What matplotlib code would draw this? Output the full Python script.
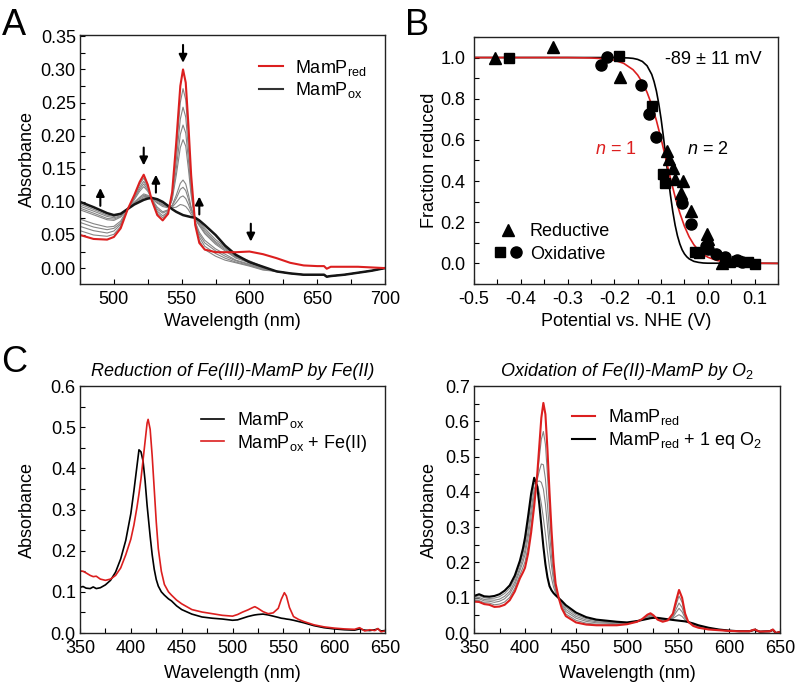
import matplotlib
matplotlib.use('Agg')
from matplotlib import pyplot as plt
from matplotlib.lines import Line2D
from matplotlib.legend_handler import HandlerTuple
from matplotlib.ticker import MultipleLocator, FuncFormatter

plt.rcParams['font.family'] = ['Liberation Sans', 'DejaVu Sans']
plt.rcParams['font.size'] = 13
plt.rcParams['mathtext.fontset'] = 'custom'
plt.rcParams['mathtext.rm'] = 'Liberation Sans'
plt.rcParams['mathtext.it'] = 'Liberation Sans:italic'
plt.rcParams['mathtext.bf'] = 'Liberation Sans:bold'
plt.rcParams['axes.unicode_minus'] = False

RED = '#dc1f1f'
GRAY = '#858585'

# ---- panel A: redox titration spectra, 475-700 nm ----
wl_a = [475, 485, 495, 500, 505, 510, 515, 519, 522, 525, 528, 532, 536, 540, 543, 546, 549, 551, 553, 555,
        557, 560, 563, 567, 575, 582, 590, 600, 610, 620, 630, 640, 650, 655, 657, 660, 670, 680, 690, 700]
red_a = [.050, .044, .043, .047, .060, .088, .110, .130, .141, .126, .102, .080, .072, .082, .115, .190, .275, .300, .280, .215,
         .140, .065, .038, .028, .024, .024, .024, .025, .021, .015, .008, .004, .003, .003, -.001, .002, .002, .002, .001, .000]
ox_a = [.100, .092, .083, .080, .082, .089, .096, .100, .103, .105, .106, .104, .100, .094, .089, .085, .082, .080, .079, .078,
        .077, .076, .072, .065, .050, .034, .020, .009, .002, -.005, -.008, -.010, -.010, -.010, -.013, -.012, -.010, -.007, -.004, .000]
gray_a = [
    [.0565, .050, .048, .051, .063, .088, .108, .126, .136, .123, .103, .083, .076, .084, .112, .176, .250, .271, .254, .197,
     .132, .066, .042, .028, .018, .012, .008, .003, -.003, -.005, -.008, -.010, -.010, -.010, -.013, -.012, -.010, -.007, -.004, .000],
    [.063, .0565, .053, .056, .066, .088, .106, .122, .131, .121, .103, .086, .079, .085, .108, .163, .225, .243, .228, .179,
     .124, .068, .047, .033, .022, .015, .009, .004, -.002, -.005, -.008, -.010, -.010, -.010, -.013, -.012, -.010, -.007, -.004, .000],
    [.069, .062, .058, .060, .068, .088, .105, .119, .127, .118, .104, .089, .083, .087, .105, .150, .202, .216, .204, .163,
     .116, .069, .051, .038, .026, .018, .011, .005, -.001, -.005, -.008, -.010, -.010, -.010, -.013, -.012, -.010, -.007, -.004, .000],
    [.074, .067, .062, .063, .071, .089, .103, .116, .123, .116, .104, .092, .085, .088, .103, .140, .182, .194, .184, .149,
     .110, .070, .054, .042, .029, .021, .012, .006, -.001, -.005, -.008, -.010, -.010, -.010, -.013, -.012, -.010, -.007, -.004, .000],
    [.088, .0805, .073, .072, .077, .089, .099, .107, .112, .110, .105, .098, .093, .091, .095, .110, .128, .133, .127, .111,
     .092, .073, .064, .052, .036, .026, .015, .008, .000, -.005, -.008, -.010, -.010, -.010, -.013, -.012, -.010, -.007, -.004, .000],
    [.0905, .083, .075, .074, .078, .089, .099, .106, .110, .109, .105, .099, .095, .092, .094, .105, .119, .122, .117, .104,
     .089, .074, .066, .054, .038, .028, .016, .009, .001, -.005, -.008, -.010, -.010, -.010, -.013, -.012, -.010, -.007, -.004, .000],
    [.0935, .086, .078, .076, .079, .089, .098, .104, .108, .108, .106, .101, .096, .092, .092, .099, .107, .109, .105, .096,
     .085, .075, .068, .057, .040, .030, .017, .010, .001, -.005, -.008, -.010, -.010, -.010, -.013, -.012, -.010, -.007, -.004, .000],
    [.0965, .0886, .080, .078, .081, .089, .097, .102, .106, .107, .106, .102, .098, .093, .091, .092, .096, .095, .093, .088,
     .081, .075, .070, .060, .043, .032, .018, .011, .002, -.005, -.008, -.010, -.010, -.010, -.013, -.012, -.010, -.007, -.004, .000],
]
# arrows: (wavelength, tail, head)
arrows_a = [(490, .094, .121), (522, .182, .155), (531, .114, .141), (551, .337, .310), (563, .081, .108), (601, .067, .040)]

# ---- panel B: Nernst titration ----
red_tri_x = [-0.455, -0.332, -0.188, -0.088, -0.083, -0.075, -0.071, -0.054, -0.058, -0.035, -0.002, 0.0, 0.031, 0.045]
red_tri_y = [1.0, 1.05, 0.905, 0.545, 0.505, 0.465, 0.41, 0.40, 0.34, 0.255, 0.145, 0.118, 0.0, 0.01]
ox_sq_x = [-0.425, -0.19, -0.12, -0.096, -0.091, -0.028, -0.018, 0.062, 0.085, 0.1]
ox_sq_y = [1.0, 1.008, 0.765, 0.435, 0.39, 0.055, 0.05, 0.012, 0.005, -0.003]
ox_ci_x = [-0.229, -0.215, -0.143, -0.126, -0.110, -0.056, -0.037, -0.005, 0.0, 0.018, 0.036, 0.062, 0.072]
ox_ci_y = [0.962, 1.005, 0.865, 0.727, 0.613, 0.295, 0.19, 0.085, 0.07, 0.045, 0.03, 0.015, 0.008]
fit1_x = [-0.5, -0.3, -0.25, -0.22, -0.2, -0.18, -0.16, -0.15, -0.14, -0.13, -0.12, -0.11, -0.10, -0.09,
          -0.08, -0.07, -0.06, -0.05, -0.04, -0.03, -0.02, -0.01, 0.0, 0.02, 0.04, 0.07, 0.15]
fit1_y = [1.0, 1.0, 0.998, 0.994, 0.987, 0.972, 0.941, 0.915, 0.879, 0.831, 0.770, 0.694, 0.605, 0.510,
          0.413, 0.323, 0.245, 0.180, 0.129, 0.091, 0.064, 0.044, 0.030, 0.014, 0.007, 0.002, 0.0]
fit2_x = [-0.5, -0.2, -0.17, -0.16, -0.15, -0.14, -0.13, -0.12, -0.115, -0.11, -0.105, -0.10, -0.095, -0.09, -0.085,
          -0.08, -0.075, -0.07, -0.065, -0.06, -0.055, -0.05, -0.045, -0.04, -0.03, -0.02, -0.01, 0.0, 0.15]
fit2_y = [1.0, 1.0, 0.998, 0.996, 0.991, 0.981, 0.960, 0.918, 0.883, 0.837, 0.776, 0.702, 0.615, 0.519, 0.423,
          0.332, 0.252, 0.186, 0.134, 0.095, 0.066, 0.046, 0.032, 0.022, 0.010, 0.005, 0.002, 0.001, 0.0]

# ---- panel C left: Fe(III)-MamP + Fe(II) ----
wl_cl = [350, 353, 356, 360, 363, 366, 370, 375, 380, 385, 390, 395, 400, 403, 406, 408, 410, 412, 414, 416, 417, 419,
         421, 423, 425, 427, 430, 433, 437, 440, 445, 450, 460, 470, 480, 490, 500, 505, 510, 515, 520, 522, 525, 530,
         535, 540, 545, 548, 551, 553, 556, 560, 565, 570, 580, 590, 600, 610, 620, 625, 630, 635, 640, 643, 646, 650]
ox_cl = [.111, .113, .109, .108, .112, .108, .110, .117, .128, .148, .180, .225, .290, .345, .405, .445, .440, .418, .370, .310, .285, .235,
         .190, .155, .130, .114, .100, .092, .083, .078, .066, .057, .046, .039, .036, .034, .031, .032, .036, .040, .043, .044, .045, .046,
         .044, .041, .038, .036, .035, .034, .033, .031, .028, .025, .018, .013, .010, .008, .007, .010, .007, .006, .008, .010, .005, .006]
fe_cl = [.151, .150, .146, .140, .137, .138, .131, .128, .131, .140, .158, .190, .228, .262, .305, .338, .375, .420, .465, .510, .519, .495,
         .430, .350, .270, .205, .150, .118, .100, .092, .080, .071, .057, .051, .047, .043, .041, .045, .051, .056, .062, .064, .060, .052,
         .047, .049, .060, .082, .098, .090, .062, .040, .033, .028, .020, .015, .012, .010, .009, .013, .005, .008, .006, .011, .003, .005]

# ---- panel C right: Fe(II)-MamP + O2 ----
wl_cr = [350, 355, 360, 365, 370, 375, 380, 385, 390, 395, 398, 400, 403, 406, 409, 412, 414, 416, 418, 420,
         422, 424, 426, 428, 430, 433, 436, 440, 450, 460, 470, 480, 490, 500, 510, 515, 520, 523, 526, 530,
         535, 540, 545, 548, 551, 554, 557, 560, 565, 570, 580, 590, 600, 610, 620, 625, 630, 640, 643, 646, 650]
red_cr = [.089, .088, .082, .080, .074, .075, .080, .093, .118, .155, .172, .185, .225, .285, .360, .450, .530, .610, .652, .620,
          .520, .400, .290, .200, .140, .100, .070, .048, .030, .024, .022, .022, .022, .025, .032, .040, .052, .056, .050, .038,
          .032, .036, .055, .090, .122, .100, .055, .032, .020, .015, .010, .008, .006, .005, .005, .010, .004, .005, .010, .000, .003]
o2_cr = [.105, .110, .104, .103, .105, .110, .120, .135, .163, .205, .240, .270, .330, .395, .440, .415, .365, .305, .245, .195,
         .158, .133, .121, .113, .107, .099, .091, .079, .058, .045, .038, .035, .032, .030, .034, .037, .040, .042, .043, .043,
         .041, .039, .037, .036, .035, .034, .033, .031, .027, .022, .015, .010, .007, .005, .005, .009, .004, .005, .009, .000, .003]
gray_cr = [
    [.092, .092, .086, .085, .080, .082, .088, .101, .127, .165, .186, .202, .246, .307, .376, .443, .497, .549, .571, .535,
     .448, .347, .256, .183, .133, .100, .074, .054, .036, .028, .025, .025, .024, .026, .032, .039, .050, .053, .049, .039,
     .034, .037, .051, .079, .105, .087, .051, .032, .021, .016, .011, .008, .006, .005, .005, .010, .004, .005, .010, .000, .003],
    [.096, .097, .091, .090, .087, .090, .097, .111, .137, .177, .201, .222, .270, .332, .394, .435, .459, .479, .477, .437,
     .364, .285, .217, .163, .126, .100, .079, .061, .042, .033, .029, .028, .026, .027, .033, .039, .047, .050, .047, .040,
     .036, .037, .047, .067, .085, .072, .046, .032, .023, .018, .012, .009, .006, .005, .005, .010, .004, .005, .010, .000, .003],
    [.099, .101, .095, .094, .093, .096, .104, .118, .145, .185, .213, .236, .288, .351, .408, .429, .431, .427, .408, .365,
     .303, .240, .189, .148, .120, .099, .083, .067, .047, .037, .032, .030, .028, .028, .033, .038, .045, .048, .046, .041,
     .037, .038, .044, .058, .070, .060, .042, .031, .024, .019, .013, .009, .007, .005, .005, .009, .004, .005, .009, .000, .003],
    [.102, .106, .100, .098, .099, .103, .112, .127, .154, .195, .226, .253, .309, .373, .424, .422, .398, .366, .326, .280,
     .230, .186, .155, .130, .114, .099, .087, .073, .052, .041, .035, .032, .030, .029, .034, .038, .042, .045, .044, .042,
     .039, .038, .041, .047, .052, .047, .037, .031, .026, .021, .014, .010, .007, .005, .005, .009, .004, .005, .009, .000, .003],
]


def style_axes(ax, xmaj, xmin, ymaj, ymin, yfmt, ypad=3.0):
    ax.xaxis.set_major_locator(MultipleLocator(xmaj))
    ax.xaxis.set_minor_locator(MultipleLocator(xmin))
    ax.yaxis.set_major_locator(MultipleLocator(ymaj))
    ax.yaxis.set_minor_locator(MultipleLocator(ymin))
    ax.yaxis.set_major_formatter(FuncFormatter(lambda v, p: yfmt.format(round(v, 3) + 0)))
    ax.tick_params(which='both', direction='in', length=3.5, width=0.8, top=False, right=False, labelsize=13)
    ax.tick_params(axis='x', pad=5)
    ax.tick_params(axis='y', pad=ypad)
    for s in ax.spines.values():
        s.set_linewidth(1.0)
        s.set_color('#222222')


fig = plt.figure(figsize=(7.96, 6.82), dpi=100)

# A
axA = fig.add_axes([0.1005, 0.5836, 0.3832, 0.3651])
for g in gray_a:
    axA.plot(wl_a, g, color=GRAY, lw=0.8)
axA.plot(wl_a, ox_a, color='#151515', lw=1.8)
axA.plot(wl_a, red_a, color=RED, lw=1.5)
for wl, y0, y1 in arrows_a:
    axA.annotate('', xy=(wl, y1), xytext=(wl, y0),
                 arrowprops=dict(arrowstyle='-|>', color='k', lw=1.5, mutation_scale=12, shrinkA=0, shrinkB=0))
axA.set_xlim(475, 700)
axA.set_ylim(-0.024, 0.352)
style_axes(axA, 50, 25, 0.05, 0.025, '{:.2f}')
axA.set_xlabel('Wavelength (nm)', labelpad=4)
axA.set_ylabel('Absorbance')
axA.yaxis.set_label_coords(-0.143, 0.5)
legA = [Line2D([], [], color=RED, lw=1.5), Line2D([], [], color='#333333', lw=1.5)]
axA.legend(legA, ['MamP$_{\\mathrm{red}}$', 'MamP$_{\\mathrm{ox}}$'], loc='upper right',
           bbox_to_anchor=(0.97, 0.945), frameon=False, handlelength=1.3, handletextpad=0.7,
           labelspacing=0.15, borderpad=0, fontsize=13)

# B
axB = fig.add_axes([0.5955, 0.5836, 0.3819, 0.3622])
axB.plot(fit2_x, fit2_y, color='k', lw=1.2)
axB.plot(fit1_x, fit1_y, color=RED, lw=1.2)
axB.plot(red_tri_x, red_tri_y, ls='none', marker='^', ms=8.5, color='k')
axB.plot(ox_sq_x, ox_sq_y, ls='none', marker='s', ms=7, color='k')
axB.plot(ox_ci_x, ox_ci_y, ls='none', marker='o', ms=8, color='k')
axB.set_xlim(-0.5, 0.15)
axB.set_ylim(-0.1, 1.1)
style_axes(axB, 0.1, 0.05, 0.2, 0.1, '{:.1f}', ypad=6)
axB.xaxis.set_major_formatter(FuncFormatter(lambda v, p: '{:.1f}'.format(round(v, 3) + 0)))
axB.set_xlabel('Potential vs. NHE (V)', labelpad=4)
axB.set_ylabel('Fraction reduced')
axB.yaxis.set_label_coords(-0.118, 0.5)
axB.text(0.628, 0.907, '-89 \u00b1 11 mV', transform=axB.transAxes, ha='left', va='center', fontsize=13)
axB.text(0.398, 0.545, '$n$ = 1', transform=axB.transAxes, ha='left', va='center', fontsize=13, color=RED)
axB.text(0.70, 0.545, '$n$ = 2', transform=axB.transAxes, ha='left', va='center', fontsize=13)
h_tri = Line2D([], [], marker='^', ls='none', color='k', ms=8.5)
h_sq = Line2D([], [], marker='s', ls='none', color='k', ms=7)
h_ci = Line2D([], [], marker='o', ls='none', color='k', ms=8)
axB.legend([(h_tri,), (h_sq, h_ci)], ['Reductive', 'Oxidative'],
           handler_map={tuple: HandlerTuple(ndivide=None, pad=0.1)}, loc='lower left',
           bbox_to_anchor=(0.035, 0.05), frameon=False, handlelength=1.6, handletextpad=0.4,
           labelspacing=0.3, borderpad=0, fontsize=13)

# C left
axC1 = fig.add_axes([0.1005, 0.0718, 0.3832, 0.3622])
axC1.plot(wl_cl, ox_cl, color='k', lw=1.2, label='MamP$_{\\mathrm{ox}}$')
axC1.plot(wl_cl, fe_cl, color=RED, lw=1.2, label='MamP$_{\\mathrm{ox}}$ + Fe(II)')
axC1.set_xlim(350, 650)
axC1.set_ylim(0, 0.6)
style_axes(axC1, 50, 25, 0.1, 0.05, '{:.1f}')
axC1.set_xlabel('Wavelength (nm)', labelpad=5.5)
axC1.set_ylabel('Absorbance')
axC1.yaxis.set_label_coords(-0.143, 0.5)
axC1.set_title('Reduction of Fe(III)-MamP by Fe(II)', style='italic', fontsize=13, pad=7)
axC1.legend(loc='upper right', bbox_to_anchor=(0.97, 0.94), frameon=False, handlelength=1.3,
            handletextpad=0.7, labelspacing=0.15, borderpad=0, fontsize=13)

# C right
axC2 = fig.add_axes([0.5955, 0.0718, 0.3844, 0.3622])
for g in gray_cr:
    axC2.plot(wl_cr, g, color=GRAY, lw=0.8)
axC2.plot(wl_cr, o2_cr, color='k', lw=1.5)
axC2.plot(wl_cr, red_cr, color=RED, lw=1.5)
axC2.set_xlim(350, 650)
axC2.set_ylim(0, 0.7)
style_axes(axC2, 50, 25, 0.1, 0.05, '{:.1f}')
axC2.set_xlabel('Wavelength (nm)', labelpad=5.5)
axC2.set_ylabel('Absorbance')
axC2.yaxis.set_label_coords(-0.118, 0.5)
axC2.set_title('Oxidation of Fe(II)-MamP by O$_2$', style='italic', fontsize=13, pad=7)
legC2 = [Line2D([], [], color=RED, lw=1.5), Line2D([], [], color='k', lw=1.5)]
axC2.legend(legC2, ['MamP$_{\\mathrm{red}}$', 'MamP$_{\\mathrm{red}}$ + 1 eq O$_2$'], loc='upper right',
            bbox_to_anchor=(0.97, 0.95), frameon=False, handlelength=1.3, handletextpad=0.7,
            labelspacing=0.15, borderpad=0, fontsize=13)

fig.text(0.002, 0.9487, 'A', fontsize=26, va='baseline')
fig.text(0.509, 0.9487, 'B', fontsize=26, va='baseline')
fig.text(0.002, 0.4545, 'C', fontsize=26, va='baseline')

fig.savefig('out.png', dpi=100)
